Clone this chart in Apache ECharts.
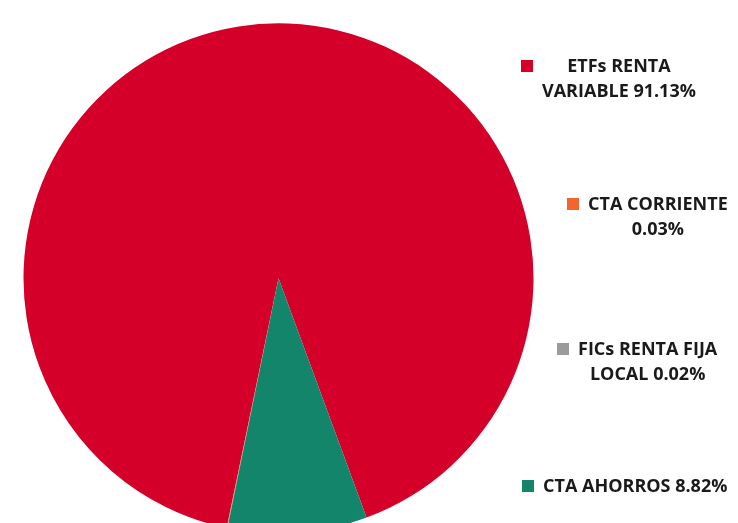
<!DOCTYPE html>
<html>
<head>
<meta charset="utf-8">
<script src="https://cdn.jsdelivr.net/npm/echarts@6/dist/echarts.min.js"></script>
<style>
  html, body { margin: 0; padding: 0; background: #fff; }
  #main { width: 738px; height: 523px; }
</style>
</head>
<body>
<div id="main"></div>
<script>
'use strict';

// valores del gráfico
var names = ['ETFs RENTA VARIABLE', 'CTA CORRIENTE', 'FICs RENTA FIJA LOCAL', 'CTA AHORROS'];
var values = [91.13, 0.03, 0.02, 8.82];
var colors = ['#d4002a', '#f4642e', '#9b9b9b', '#13856a'];
// texto de la leyenda, linea por linea
var legendLines = [
	['ETFs RENTA', 'VARIABLE 91.13%'],
	['CTA CORRIENTE', '0.03%'],
	['FICs RENTA FIJA', 'LOCAL 0.02%'],
	['CTA AHORROS 8.82%']
];
var legendPos = [[521, 54], [567, 192], [557, 337], [522, 474]];

var LINE_H = 25;
var FONT = '"Open Sans", "Liberation Sans", sans-serif';

function iconPath(lines) {
	// cuadrado alineado con la primera linea del texto
	var h = lines * LINE_H;
	return 'path://M0,0h0.01v0.01h-0.01z M0,6h12v12h-12z M15.99,' + (h - 0.01) + 'h0.01v0.01h-0.01z';
}

function makeLegend(i) {
	var lines = legendLines[i];
	return {
		show: true,
		orient: 'vertical',
		left: legendPos[i][0],
		top: legendPos[i][1],
		padding: 0,
		data: [{ name: names[i], icon: iconPath(lines.length) }],
		itemWidth: 16,
		itemHeight: lines.length * LINE_H,
		symbolKeepAspect: false,
		selectedMode: false,
		formatter: function () {
			return lines.map(function (l) { return '{a|' + l + '}'; }).join('\n');
		},
		textStyle: {
			rich: {
				a: {
					align: 'center',
					fontFamily: FONT,
					fontWeight: 'bold',
					fontSize: 18,
					lineHeight: LINE_H,
					color: '#1a1a1a'
				}
			}
		}
	};
}

var myChart = echarts.init(document.getElementById('main'), null, { renderer: 'canvas' });

var option = {
	animation: false,
	color: colors,
	legend: names.map(function (n, i) { return makeLegend(i); }),
	series: [{
		type: 'pie',
		center: [278.5, 278.3],
		radius: 255,
		startAngle: 290.2,
		clockwise: false,
		label: { show: false },
		labelLine: { show: false },
		itemStyle: { borderWidth: 0 },
		emphasis: { disabled: true },
		data: names.map(function (n, i) {
			return { name: n, value: values[i] };
		})
	}]
};
myChart.setOption(option);
</script>
</body>
</html>
